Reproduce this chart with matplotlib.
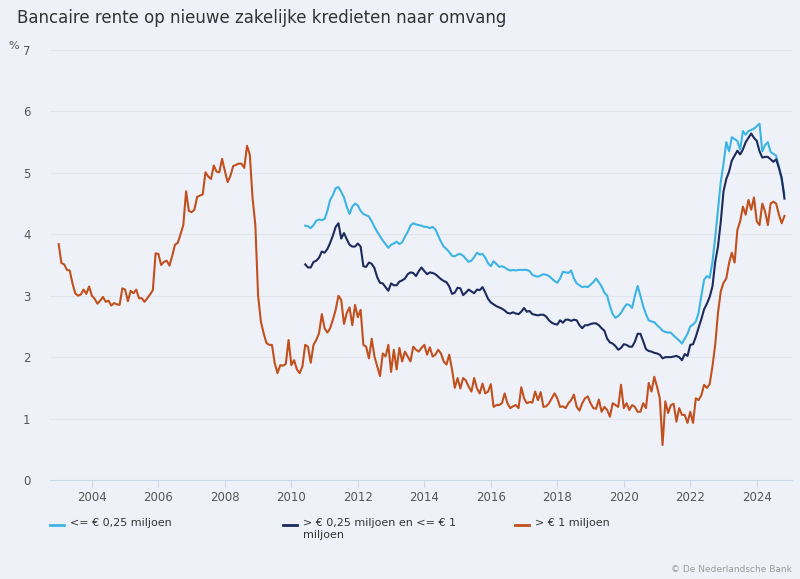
import numpy as np
import matplotlib
matplotlib.use("Agg")
import matplotlib.pyplot as plt
from matplotlib.lines import Line2D

# Monthly series
# > EUR 1 mln: Jan 2003 - Nov 2024
large = [
    3.84, 3.53, 3.51, 3.42, 3.41, 3.20, 3.04, 3.00, 3.02, 3.10, 3.03, 3.15,  # 2003
    3.00, 2.95, 2.87, 2.92, 2.98, 2.90, 2.92, 2.84, 2.88, 2.86, 2.85, 3.12,  # 2004
    3.10, 2.91, 3.08, 3.04, 3.10, 2.96, 2.96, 2.90, 2.96, 3.02, 3.09, 3.69,  # 2005
    3.68, 3.50, 3.55, 3.57, 3.49, 3.65, 3.83, 3.86, 4.00, 4.15, 4.70, 4.38,  # 2006
    4.36, 4.40, 4.61, 4.63, 4.65, 5.01, 4.94, 4.90, 5.12, 5.02, 5.01, 5.23,  # 2007
    5.03, 4.85, 4.95, 5.11, 5.13, 5.15, 5.15, 5.08, 5.44, 5.30, 4.59, 4.15,  # 2008
    3.00, 2.58, 2.39, 2.23, 2.20, 2.20, 1.90, 1.74, 1.87, 1.86, 1.89, 2.28,  # 2009
    1.87, 1.95, 1.80, 1.74, 1.85, 2.20, 2.17, 1.91, 2.20, 2.28, 2.39, 2.70,  # 2010
    2.47, 2.40, 2.47, 2.61, 2.77, 3.00, 2.93, 2.54, 2.72, 2.81, 2.52, 2.85,  # 2011
    2.65, 2.77, 2.20, 2.17, 1.98, 2.30, 2.01, 1.85, 1.69, 2.06, 2.01, 2.20,  # 2012
    1.76, 2.12, 1.80, 2.15, 1.93, 2.09, 2.01, 1.93, 2.17, 2.12, 2.09, 2.15,  # 2013
    2.20, 2.04, 2.16, 2.01, 2.04, 2.12, 2.06, 1.93, 1.88, 2.04, 1.80, 1.50,  # 2014
    1.66, 1.49, 1.66, 1.62, 1.52, 1.44, 1.66, 1.49, 1.41, 1.57, 1.41, 1.44,  # 2015
    1.56, 1.19, 1.22, 1.22, 1.25, 1.41, 1.25, 1.17, 1.20, 1.22, 1.17, 1.51,  # 2016
    1.33, 1.25, 1.27, 1.26, 1.44, 1.30, 1.43, 1.19, 1.20, 1.25, 1.33, 1.41,  # 2017
    1.33, 1.19, 1.20, 1.17, 1.25, 1.30, 1.39, 1.19, 1.13, 1.25, 1.33, 1.36,  # 2018
    1.25, 1.17, 1.16, 1.31, 1.11, 1.19, 1.14, 1.03, 1.25, 1.22, 1.19, 1.55,  # 2019
    1.17, 1.25, 1.14, 1.22, 1.19, 1.11, 1.11, 1.25, 1.17, 1.58, 1.44, 1.68,  # 2020
    1.52, 1.33, 0.57, 1.28, 1.09, 1.22, 1.24, 0.95, 1.17, 1.06, 1.06, 0.93,  # 2021
    1.11, 0.93, 1.33, 1.30, 1.38, 1.55, 1.50, 1.56, 1.85, 2.20, 2.72, 3.07,  # 2022
    3.21, 3.28, 3.53, 3.70, 3.54, 4.07, 4.21, 4.45, 4.32, 4.56, 4.40, 4.60,  # 2023
    4.21, 4.15, 4.50, 4.37, 4.15, 4.50, 4.53, 4.50, 4.32, 4.18, 4.30,        # 2024
]

# <= EUR 0.25 mln: Jun 2010 - Nov 2024
small = [
    4.14, 4.13, 4.10, 4.15, 4.22, 4.24, 4.23,                                # 2010
    4.25, 4.38, 4.56, 4.64, 4.75, 4.77, 4.69, 4.60, 4.45, 4.33, 4.45, 4.50,  # 2011
    4.47, 4.38, 4.33, 4.31, 4.29, 4.21, 4.12, 4.04, 3.97, 3.90, 3.84, 3.78,  # 2012
    3.83, 3.85, 3.88, 3.84, 3.87, 3.96, 4.04, 4.14, 4.18, 4.16, 4.15, 4.14,  # 2013
    4.12, 4.12, 4.10, 4.12, 4.08, 3.98, 3.88, 3.80, 3.76, 3.71, 3.65, 3.64,  # 2014
    3.67, 3.68, 3.65, 3.60, 3.55, 3.57, 3.63, 3.70, 3.67, 3.68, 3.62, 3.53,  # 2015
    3.48, 3.56, 3.52, 3.47, 3.48, 3.46, 3.43, 3.41, 3.42, 3.41, 3.42, 3.42,  # 2016
    3.42, 3.42, 3.40, 3.34, 3.32, 3.31, 3.33, 3.35, 3.34, 3.32, 3.28, 3.24,  # 2017
    3.21, 3.28, 3.39, 3.38, 3.37, 3.41, 3.28, 3.20, 3.17, 3.14, 3.15, 3.14,  # 2018
    3.18, 3.22, 3.28, 3.22, 3.15, 3.05, 3.00, 2.83, 2.70, 2.64, 2.67, 2.72,  # 2019
    2.80, 2.86, 2.85, 2.80, 3.00, 3.16, 3.00, 2.83, 2.70, 2.60, 2.58, 2.57,  # 2020
    2.52, 2.48, 2.43, 2.41, 2.40, 2.40, 2.35, 2.31, 2.27, 2.22, 2.30, 2.38,  # 2021
    2.50, 2.53, 2.58, 2.72, 3.00, 3.26, 3.32, 3.29, 3.55, 3.95, 4.40, 4.85,  # 2022
    5.15, 5.50, 5.35, 5.58, 5.55, 5.52, 5.38, 5.68, 5.62, 5.68, 5.70, 5.72,  # 2023
    5.76, 5.80, 5.35, 5.45, 5.50, 5.34, 5.31, 5.28, 5.10, 4.88, 4.65,        # 2024
]

# > EUR 0.25 mln and <= EUR 1 mln: Jun 2010 - Nov 2024
medium = [
    3.51, 3.46, 3.46, 3.55, 3.57, 3.62, 3.72,                                # 2010
    3.70, 3.76, 3.86, 3.98, 4.12, 4.18, 3.93, 4.02, 3.92, 3.83, 3.80, 3.80,  # 2011
    3.85, 3.80, 3.48, 3.47, 3.54, 3.52, 3.45, 3.30, 3.21, 3.20, 3.14, 3.08,  # 2012
    3.20, 3.17, 3.17, 3.23, 3.25, 3.28, 3.35, 3.38, 3.37, 3.32, 3.40, 3.46,  # 2013
    3.40, 3.35, 3.38, 3.37, 3.35, 3.31, 3.27, 3.24, 3.22, 3.15, 3.03, 3.05,  # 2014
    3.13, 3.12, 3.01, 3.05, 3.10, 3.07, 3.04, 3.10, 3.09, 3.14, 3.05, 2.95,  # 2015
    2.89, 2.86, 2.83, 2.81, 2.79, 2.76, 2.72, 2.71, 2.73, 2.71, 2.70, 2.74,  # 2016
    2.80, 2.74, 2.75, 2.70, 2.69, 2.68, 2.69, 2.69, 2.66, 2.60, 2.56, 2.54,  # 2017
    2.53, 2.60, 2.56, 2.61, 2.61, 2.59, 2.61, 2.60, 2.52, 2.47, 2.52, 2.52,  # 2018
    2.54, 2.55, 2.55, 2.52, 2.47, 2.43, 2.30, 2.24, 2.22, 2.18, 2.12, 2.15,  # 2019
    2.21, 2.20, 2.17, 2.17, 2.25, 2.38, 2.38, 2.26, 2.13, 2.10, 2.09, 2.07,  # 2020
    2.06, 2.04, 1.98, 2.00, 2.00, 2.00, 2.01, 2.02, 2.00, 1.95, 2.05, 2.02,  # 2021
    2.20, 2.21, 2.33, 2.48, 2.62, 2.78, 2.87, 2.98, 3.15, 3.55, 3.80, 4.20,  # 2022
    4.70, 4.90, 5.02, 5.20, 5.28, 5.36, 5.30, 5.38, 5.50, 5.57, 5.64, 5.57,  # 2023
    5.52, 5.35, 5.25, 5.26, 5.26, 5.22, 5.18, 5.22, 5.08, 4.92, 4.58,        # 2024
]

large_start = 2003.0          # Jan 2003
small_start = 2010 + 5 / 12   # Jun 2010

labels = ["<= € 0,25 miljoen", "> € 0,25 miljoen en <= € 1\nmiljoen", "> € 1 miljoen"]
colors = ["#3cb4e5", "#1c2a5e", "#c2501e"]
year_ticks = list(range(2004, 2025, 2))

x_large = large_start + np.arange(len(large)) / 12
x_small = small_start + np.arange(len(small)) / 12
x_medium = small_start + np.arange(len(medium)) / 12

bg = "#eef2f8"
fig = plt.figure(figsize=(8, 5.79), dpi=100, facecolor=bg)
ax = fig.add_axes([50 / 800, 99 / 579, 742 / 800, 430 / 579], facecolor=bg)

ax.plot(x_small, small, color=colors[0], lw=1.5)
ax.plot(x_medium, medium, color=colors[1], lw=1.5)
ax.plot(x_large, large, color=colors[2], lw=1.5)

ax.set_xlim(2002.74, 2025.06)
ax.set_ylim(0, 7)
ax.set_yticks(range(0, 8))
ax.set_xticks(year_ticks)
ax.grid(axis="y", color="#e1e5ec", lw=0.8)
ax.set_axisbelow(True)
for s in ["top", "right", "left"]:
    ax.spines[s].set_visible(False)
ax.spines["bottom"].set_color("#ccd6eb")
ax.tick_params(axis="y", length=0, labelsize=8.5, labelcolor="#555555", pad=14)
ax.tick_params(axis="x", length=5, color="#ccd6eb", labelsize=8.5, labelcolor="#555555", pad=3)

fig.text(17 / 800, 1 - 18 / 579, "Bancaire rente op nieuwe zakelijke kredieten naar omvang",
         fontsize=12, color="#333333", va="center", ha="left")
fig.text(14 / 800, 1 - 46 / 579, "%", fontsize=8, color="#555555", va="center", ha="center")

# legend, laid out by hand like the original
leg_x = [50, 283, 515]
for lab, col, lx in zip(labels, colors, leg_x):
    fig.add_artist(Line2D([lx / 800, (lx + 14) / 800], [1 - 525 / 579] * 2,
                          color=col, lw=2, transform=fig.transFigure))
    fig.text((lx + 20) / 800, 1 - 518 / 579, lab, fontsize=8, color="#333333",
             va="top", ha="left", linespacing=1.25)

fig.text(792 / 800, 1 - 570 / 579, "© De Nederlandsche Bank", fontsize=6.5,
         color="#999999", va="center", ha="right")

fig.savefig("out.png", dpi=100, facecolor=bg)
